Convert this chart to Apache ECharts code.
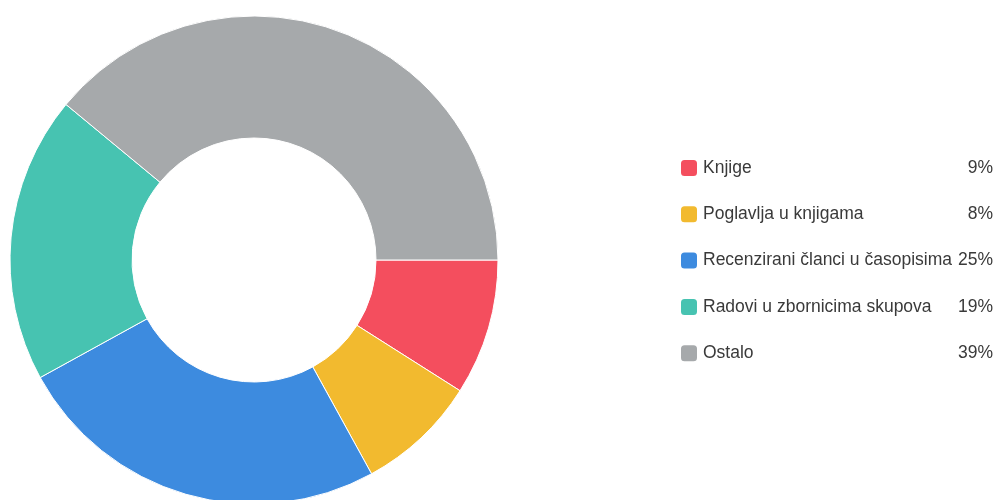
<!DOCTYPE html>
<html>
<head>
<meta charset="utf-8">
<script src="https://cdn.jsdelivr.net/npm/echarts@6/dist/echarts.min.js"></script>
<style>
  html, body { margin: 0; padding: 0; background: #fff; }
  #chart { width: 998px; height: 500px; }
</style>
</head>
<body>
<div id="chart"></div>
<script>
// share of publications by type (percent)
const categories = ['Knjige', 'Poglavlja u knjigama', 'Recenzirani članci u časopisima', 'Radovi u zbornicima skupova', 'Ostalo']
const shares = [9, 8, 25, 19, 39]
const colors = ['#F44E5E', '#F2BA2F', '#3D8BDF', '#47C3B1', '#A6A9AB']

const chart = echarts.init(document.getElementById('chart'))

const pieData = categories.map((name, i) => ({
  name: name,
  value: shares[i],
  itemStyle: { color: colors[i] }
}))

const font = "'Liberation Sans', Arial, sans-serif"

chart.setOption({
  animation: false,
  legend: {
    orient: 'vertical',
    left: 679,
    top: 158,
    padding: 0,
    itemWidth: 18,
    itemHeight: 18,
    itemGap: 26.3,
    icon: 'roundRect',
    textStyle: {
      fontFamily: font,
      fontSize: 17.5,
      color: '#3a3a3a',
      rich: {
        n: { width: 255, fontFamily: font, fontSize: 17.5, color: '#3a3a3a' },
        p: { width: 35, align: 'right', fontFamily: font, fontSize: 17.5, color: '#3a3a3a' }
      }
    },
    formatter: (name) => {
      const i = categories.indexOf(name)
      return '{n|' + name + '}{p|' + shares[i] + '%}'
    }
  },
  series: [{
    type: 'pie',
    center: [254, 260],
    radius: [122, 244],
    startAngle: 0,
    clockwise: true,
    label: { show: false },
    labelLine: { show: false },
    itemStyle: { borderColor: '#fff', borderWidth: 1 },
    data: pieData
  }]
})
</script>
</body>
</html>
